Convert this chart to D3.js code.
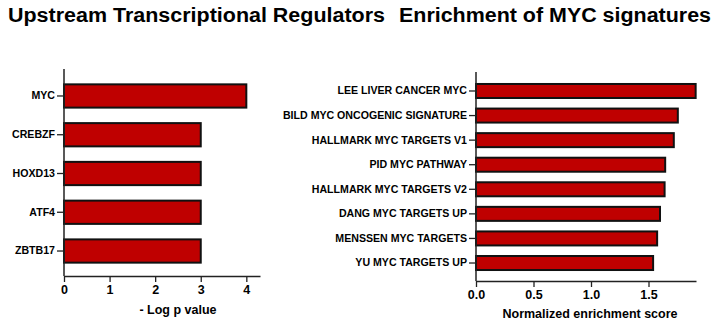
<!DOCTYPE html>
<html><head><meta charset="utf-8">
<script src="https://cdn.jsdelivr.net/npm/d3@7"></script>
<style>
body{margin:0;background:#fff;}
svg{display:block;}
text{font-family:"Liberation Sans",Arial,sans-serif;font-weight:bold;fill:#000;}
</style></head><body>
<svg id="c" width="717" height="328"></svg>
<script>
const regulators = ["MYC","CREBZF","HOXD13","ATF4","ZBTB17"];
const logP = [4.0, 3.0, 3.0, 3.0, 3.0];
const leftTicks = [0,1,2,3,4];

const signatures = ["LEE LIVER CANCER MYC","BILD MYC ONCOGENIC SIGNATURE","HALLMARK MYC TARGETS V1","PID MYC PATHWAY","HALLMARK MYC TARGETS V2","DANG MYC TARGETS UP","MENSSEN MYC TARGETS","YU MYC TARGETS UP"];
const nes = [1.91, 1.755, 1.72, 1.645, 1.64, 1.60, 1.575, 1.54];
const rightTicks = [0,0.5,1.0,1.5];

const titles = ["Upstream Transcriptional Regulators","Enrichment of MYC signatures"];
const xTitles = ["- Log p value","Normalized enrichment score"];

const svg = d3.select("#c");
const fill = "#bf0000";

function panel(cfg){
  const g = svg.append("g");
  const x = d3.scaleLinear().domain(cfg.xdom).range(cfg.xr);
  const y = d3.scaleBand().domain(cfg.cats).range(cfg.yr).paddingInner(cfg.pin).paddingOuter(cfg.pin/2);
  g.selectAll("rect").data(cfg.vals).join("rect")
    .attr("x", x(0))
    .attr("y",(d,i)=>y(cfg.cats[i]))
    .attr("width", d=>x(d)-x(0))
    .attr("height", y.bandwidth())
    .attr("fill", fill).attr("stroke","#111").attr("stroke-width",2);
  const ya = g.append("g").attr("transform",`translate(${x(0)},0)`)
    .call(d3.axisLeft(y).tickSize(7).tickPadding(2).tickSizeOuter(0));
  ya.select(".domain").remove();
  ya.selectAll(".tick line").attr("stroke","#222").attr("stroke-width",1.3);
  ya.selectAll(".tick text").style("font-size","10.6px");
  g.append("line").attr("x1",x(0)).attr("x2",x(0)).attr("y1",cfg.ytop).attr("y2",cfg.xaxisY)
    .attr("stroke","#222").attr("stroke-width",1.5);
  const xa = g.append("g").attr("transform",`translate(0,${cfg.xaxisY})`)
    .call(d3.axisBottom(x).tickValues(cfg.ticks).tickFormat(cfg.fmt).tickSize(6).tickSizeOuter(0).tickPadding(3));
  xa.select(".domain").attr("stroke","#222").attr("stroke-width",1.5);
  xa.selectAll(".tick line").attr("stroke","#222").attr("stroke-width",1.3);
  xa.selectAll(".tick text").style("font-size","12.5px");
  g.append("text").attr("x",cfg.xtx).attr("y",cfg.xty).attr("text-anchor","middle")
    .style("font-size","12.5px").text(cfg.xtitle);
  g.append("text").attr("x",cfg.tx).attr("y",22).attr("textLength",cfg.tl).attr("lengthAdjust","spacingAndGlyphs")
    .style("font-size","20px").text(cfg.title);
}

panel({cats:regulators, vals:logP, xdom:[0,4.3], xr:[64,260], yr:[76.6,270.4], pin:0.4,
  ytop:69, xaxisY:276, ticks:leftTicks, fmt:d3.format("d"), xtitle:xTitles[0], xtx:178, xty:314,
  title:titles[0], tx:8, tl:377});
panel({cats:signatures, vals:nes, xdom:[0,1.913], xr:[476,696], yr:[78.7,275.3], pin:0.43,
  ytop:72, xaxisY:281, ticks:rightTicks, fmt:d3.format(".1f"), xtitle:xTitles[1], xtx:590, xty:318,
  title:titles[1], tx:399, tl:312});
</script></body></html>
